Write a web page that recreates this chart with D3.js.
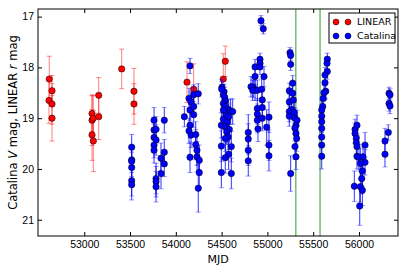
<!DOCTYPE html>
<html>
<head>
<meta charset="utf-8">
<script src="https://cdn.jsdelivr.net/npm/d3@7"></script>
<style>
  body { margin: 0; background: #fff; }
  svg { display: block; font-family: "DejaVu Sans", sans-serif; }
  .axis text { font-size: 10.5px; fill: #000; }
  .axis path, .axis line { stroke: #000; }
</style>
</head>
<body>
<svg width="407" height="273"></svg>
<script>
// LINEAR r-band points: MJD, mag, error
var linearMjd = [52618, 52648, 52615, 52648, 52648, 53085, 53085, 53099, 53085, 53099, 53158, 53158,
                 53409, 53543, 53543, 54122, 54195, 54540, 54518];
var linearMag = [18.23, 18.46, 18.65, 18.72, 19.00, 18.91, 19.04, 19.00, 19.33, 19.45, 18.55, 18.97,
                 18.03, 18.47, 18.72, 18.29, 18.43, 17.88, 18.23];
var linearErr = [0.45, 0.30, 0.45, 0.40, 0.45, 0.35, 0.50, 0.45, 0.50, 0.60, 0.35, 0.45,
                 0.39, 0.45, 0.40, 0.40, 0.50, 0.30, 0.50];

// Catalina V-band points
var catMjd = [
  53518, 53518, 53518, 53518, 53518, 53518,
  53762, 53762, 53762, 53762, 53762, 53784, 53784, 53784, 53784, 53784, 53874, 53874, 53874, 53838, 53838,
  54155, 54155, 54155, 54155, 54144, 54144, 54166, 54166, 54195, 54195, 54195, 54245, 54245, 54093, 54217, 54217, 54231, 54231, 54256, 54256,
  54504, 54526, 54519, 54534, 54540, 54519, 54534, 54577, 54599, 54519, 54548, 54577, 54519, 54562, 54497, 54540, 54584, 54556, 54570, 54540, 54497, 54606, 54577, 54540, 54497, 54606, 54621, 54501,
  54791, 54791, 54791, 54791,
  54930, 54955, 54865, 54919, 54919, 54919, 54865, 54846, 54865, 54890, 54938, 54963, 54944, 54890, 54890, 54944, 54890, 54944, 54897, 54992, 55017, 55017, 55017, 54821, 54839,
  55247, 55254, 55254, 55276, 55239, 55276, 55239, 55283, 55265, 55239, 55294, 55239, 55254, 55301, 55312, 55301, 55312, 55319, 55301, 55312, 55323,
  55654, 55651, 55654, 55629, 55629, 55637, 55610, 55604, 55593, 55593, 55593, 55593, 55593, 55593, 55593, 55618,
  55957, 55978, 55957, 55971, 55971, 55978, 55978, 56000, 56044, 56066, 56066, 56015, 56037, 56030, 55949, 56015, 56037, 56008,
  56328, 56339, 56328, 56339, 56320, 56284, 56284
];
var catMag = [
  19.57, 19.82, 19.85, 19.97, 20.23, 20.31,
  19.04, 19.23, 19.38, 19.53, 19.63, 19.22, 19.43, 20.19, 20.25, 20.35, 19.04, 19.67, 19.90, 19.79, 20.09,
  17.97, 18.84, 19.14, 19.77, 18.61, 19.25, 18.68, 19.33, 18.54, 18.77, 18.93, 18.52, 20.38, 18.97, 19.32, 19.52, 19.63, 19.76, 19.83, 20.07,
  18.39, 18.48, 18.54, 18.59, 18.66, 18.71, 18.77, 18.83, 18.87, 18.84, 18.94, 18.97, 19.02, 19.07, 19.14, 19.17, 19.22, 19.27, 19.37, 19.40, 19.55, 19.56, 19.71, 19.78, 20.07, 20.09, 18.87, 18.43,
  19.28, 19.41, 19.63, 19.84,
  17.08, 17.24, 17.99, 17.84, 17.92, 17.99, 18.18, 18.39, 18.45, 18.45, 18.43, 18.18, 18.64, 18.81, 18.92, 18.79, 19.04, 19.00, 19.21, 19.18, 18.98, 19.53, 19.74, 18.38, 18.45,
  17.71, 17.76, 17.94, 18.31, 18.46, 18.51, 18.68, 18.64, 18.83, 18.87, 18.89, 18.96, 20.09, 19.00, 19.14, 19.20, 19.30, 19.40, 19.56, 19.76, 19.04,
  17.84, 17.92, 18.08, 18.15, 18.30, 18.47, 18.61, 18.77, 18.84, 18.96, 19.07, 19.20, 19.37, 19.53, 19.75, 18.50,
  19.22, 19.14, 19.30, 19.39, 19.48, 19.56, 19.75, 19.77, 19.76, 19.53, 19.87, 19.89, 20.04, 20.19, 20.34, 20.35, 20.42, 20.73,
  18.51, 18.54, 18.71, 18.76, 19.28, 19.45, 19.71
];
var catErr = [
  0.25, 0.25, 0.30, 0.30, 0.30, 0.30,
  0.25, 0.25, 0.25, 0.25, 0.25, 0.25, 0.30, 0.30, 0.30, 0.30, 0.25, 0.25, 0.25, 0.30, 0.30,
  0.15, 0.20, 0.25, 0.30, 0.20, 0.25, 0.20, 0.25, 0.20, 0.20, 0.25, 0.20, 0.47, 0.20, 0.25, 0.30, 0.30, 0.30, 0.30, 0.30,
  0.15, 0.15, 0.20, 0.20, 0.20, 0.20, 0.20, 0.20, 0.25, 0.20, 0.20, 0.25, 0.20, 0.25, 0.25, 0.25, 0.25, 0.25, 0.25, 0.25, 0.30, 0.30, 0.30, 0.30, 0.30, 0.30, 0.25, 0.15,
  0.35, 0.30, 0.30, 0.30,
  0.10, 0.10, 0.15, 0.12, 0.12, 0.15, 0.15, 0.20, 0.20, 0.20, 0.20, 0.20, 0.20, 0.20, 0.20, 0.20, 0.25, 0.25, 0.25, 0.35, 0.30, 0.30, 0.30, 0.20, 0.20,
  0.10, 0.10, 0.12, 0.15, 0.15, 0.15, 0.15, 0.15, 0.20, 0.20, 0.20, 0.20, 0.35, 0.20, 0.20, 0.25, 0.25, 0.25, 0.25, 0.25, 0.20,
  0.12, 0.12, 0.15, 0.15, 0.15, 0.15, 0.15, 0.20, 0.20, 0.20, 0.20, 0.20, 0.20, 0.25, 0.25, 0.15,
  0.20, 0.20, 0.20, 0.20, 0.25, 0.25, 0.25, 0.25, 0.25, 0.25, 0.25, 0.30, 0.30, 0.30, 0.30, 0.30, 0.30, 0.38,
  0.12, 0.12, 0.15, 0.15, 0.15, 0.25, 0.25
];

// vertical markers
var eventMjd = [55310, 55575];

var xTicks = [53000, 53500, 54000, 54500, 55000, 55500, 56000];
var yTicks = [17, 18, 19, 20, 21];

var svg = d3.select("svg"),
    margin = {top: 9, right: 9, bottom: 37, left: 38},
    width = 407 - margin.left - margin.right,
    height = 273 - margin.top - margin.bottom,
    g = svg.append("g").attr("transform", "translate(" + margin.left + "," + margin.top + ")");

var x = d3.scaleLinear().domain([52495, 56426]).range([0, width]),
    y = d3.scaleLinear().domain([16.85, 21.32]).range([0, height]);

function toPoints(mjd, mag, err) {
    return mjd.map(function(m, i) { return {mjd: m, mag: mag[i], err: err[i]}; });
}
var linear = toPoints(linearMjd, linearMag, linearErr),
    catalina = toPoints(catMjd, catMag, catErr);

// green lines
g.selectAll(".event")
    .data(eventMjd)
    .enter().append("line")
    .attr("class", "event")
    .attr("x1", function(d) { return x(d); })
    .attr("x2", function(d) { return x(d); })
    .attr("y1", 0)
    .attr("y2", height)
    .attr("stroke", "#008000")
    .attr("stroke-opacity", 0.55)
    .attr("stroke-width", 1.5);

function drawSeries(data, color, barOpacity, capOpacity) {
    var s = g.append("g");
    var eb = s.selectAll(".eb")
        .data(data)
        .enter().append("g");
    eb.append("line")
        .attr("x1", function(d) { return x(d.mjd); })
        .attr("x2", function(d) { return x(d.mjd); })
        .attr("y1", function(d) { return y(d.mag - d.err); })
        .attr("y2", function(d) { return y(d.mag + d.err); })
        .attr("stroke", color)
        .attr("stroke-opacity", barOpacity);
    [-1, 1].forEach(function(sgn) {
        eb.append("line")
            .attr("x1", function(d) { return x(d.mjd) - 2.5; })
            .attr("x2", function(d) { return x(d.mjd) + 2.5; })
            .attr("y1", function(d) { return y(d.mag + sgn * d.err); })
            .attr("y2", function(d) { return y(d.mag + sgn * d.err); })
            .attr("stroke", color)
            .attr("stroke-opacity", capOpacity);
    });
    s.selectAll(".dot")
        .data(data)
        .enter().append("circle")
        .attr("r", 3.2)
        .attr("cx", function(d) { return x(d.mjd); })
        .attr("cy", function(d) { return y(d.mag); })
        .attr("fill", color)
        .attr("stroke", "#000")
        .attr("stroke-width", 0.5);
}

drawSeries(linear, "#ff0000", 0.5, 0.45);
drawSeries(catalina, "#0000ff", 0.8, 0.4);

// axes, ticks pointing inward on all four sides
g.append("g")
    .attr("class", "axis")
    .attr("transform", "translate(0," + height + ")")
    .call(d3.axisBottom(x).tickValues(xTicks).tickSize(-4).tickPadding(5).tickFormat(d3.format("d")));
g.append("g")
    .attr("class", "axis")
    .call(d3.axisTop(x).tickValues(xTicks).tickSize(-4).tickFormat(""));
g.append("g")
    .attr("class", "axis")
    .call(d3.axisLeft(y).tickValues(yTicks).tickSize(-4).tickPadding(4).tickFormat(d3.format("d")));
g.append("g")
    .attr("class", "axis")
    .attr("transform", "translate(" + width + ",0)")
    .call(d3.axisRight(y).tickValues(yTicks).tickSize(-4).tickFormat(""));
g.selectAll(".axis .domain").remove();

g.append("rect")
    .attr("width", width)
    .attr("height", height)
    .attr("fill", "none")
    .attr("stroke", "#000");

// axis labels
svg.append("text")
    .attr("x", margin.left + width / 2)
    .attr("y", 263)
    .attr("text-anchor", "middle")
    .style("font-size", "11px")
    .text("MJD");

var yl = svg.append("text")
    .attr("transform", "translate(17," + (margin.top + height / 2) + ") rotate(-90)")
    .attr("text-anchor", "middle")
    .style("font-size", "11.5px");
yl.append("tspan").text("Catalina ");
yl.append("tspan").style("font-style", "italic").text("V");
yl.append("tspan").text(" mag, LINEAR ");
yl.append("tspan").style("font-style", "italic").text("r");
yl.append("tspan").text(" mag");

// legend
var legend = svg.append("g").attr("transform", "translate(329,13)");
legend.append("rect")
    .attr("width", 66)
    .attr("height", 30)
    .attr("fill", "#fff")
    .attr("stroke", "#000");
var items = [{name: "LINEAR", color: "#ff0000"}, {name: "Catalina", color: "#0000ff"}];
var li = legend.selectAll(".item")
    .data(items)
    .enter().append("g")
    .attr("transform", function(d, i) { return "translate(0," + (9 + i * 14) + ")"; });
[7, 19].forEach(function(cx) {
    li.append("circle")
        .attr("cx", cx)
        .attr("r", 3)
        .attr("fill", function(d) { return d.color; })
        .attr("stroke", "#000")
        .attr("stroke-width", 0.5);
});
li.append("text")
    .attr("x", 28)
    .attr("dy", "0.35em")
    .style("font-size", "9.5px")
    .text(function(d) { return d.name; });
</script>
</body>
</html>
